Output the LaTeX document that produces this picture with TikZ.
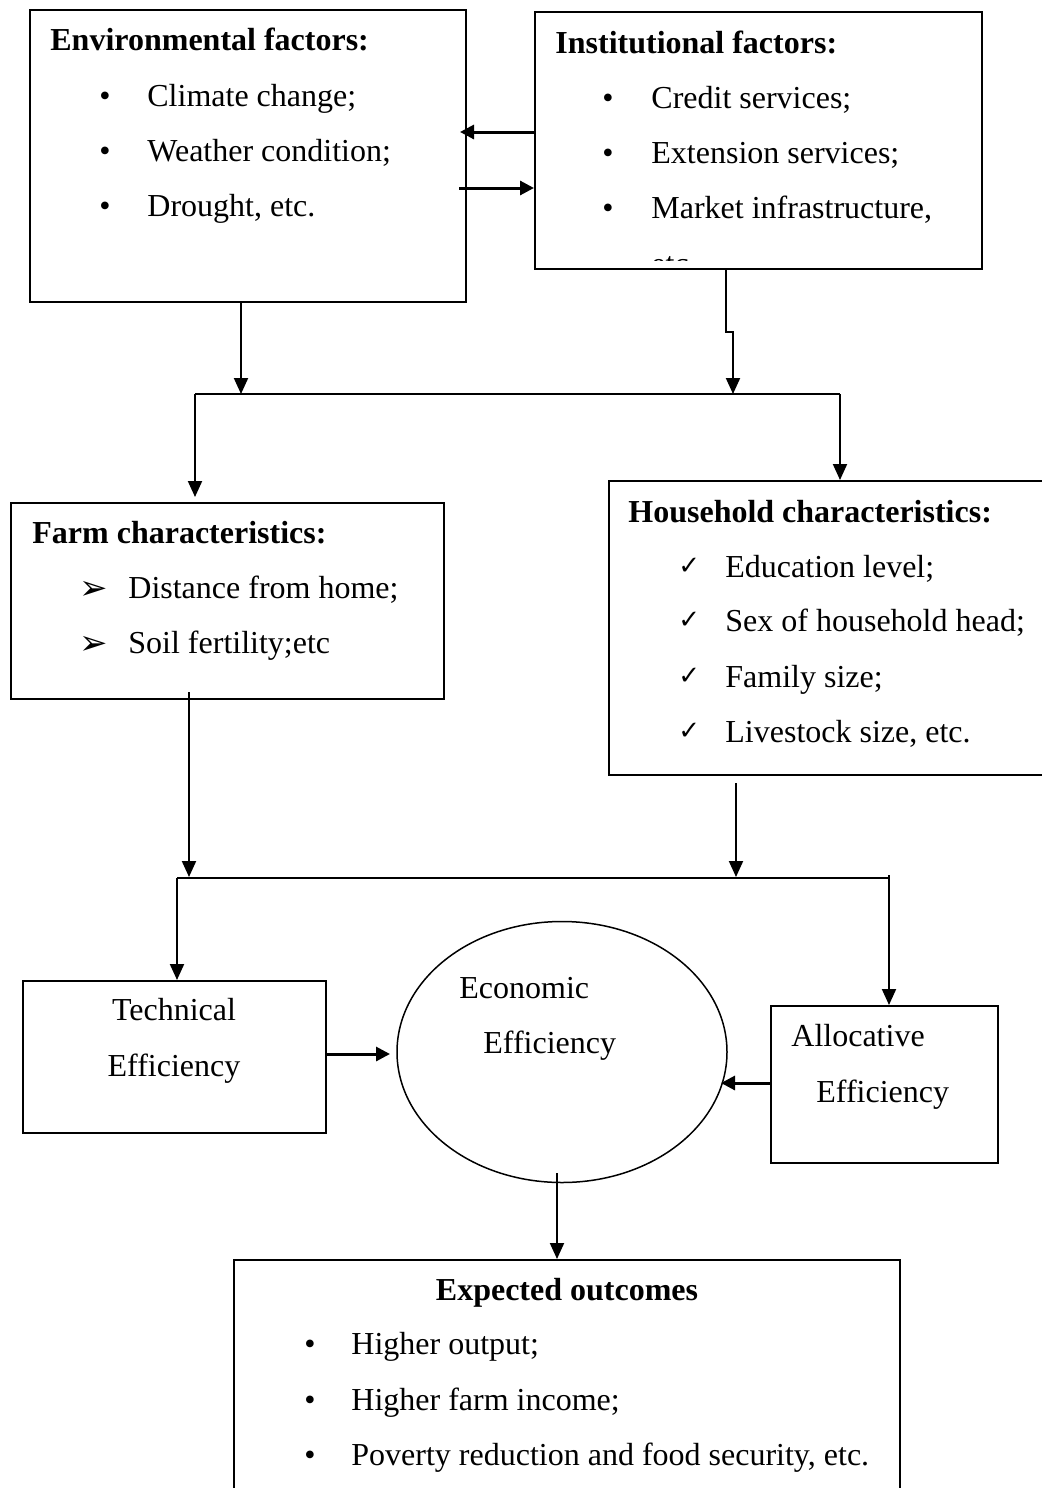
\documentclass[tikz,border=0pt]{standalone}
\usepackage{fontspec}
\setmainfont{Liberation Serif}
\newfontfamily\dejavu{DejaVu Sans}
\usetikzlibrary{arrows.meta,shapes.geometric,fit}
\begin{document}
\begin{tikzpicture}[x=0.5pt,y=-0.5pt,
 box/.style={draw, line width=1pt, inner sep=0pt},
 txt/.style={anchor=base west, inner sep=0pt, font=\fontsize{16}{19}\selectfont},
 ctxt/.style={anchor=base, inner sep=0pt, font=\fontsize{16}{19}\selectfont},
 hd/.style={anchor=base west, inner sep=0pt, font=\fontsize{16}{19}\selectfont\bfseries},
 chk/.style={anchor=west, inner sep=0pt, font=\dejavu\fontsize{13}{14}\selectfont},
 tri/.style={anchor=west, inner sep=0pt, font=\dejavu\fontsize{17}{18}\selectfont},
 conn/.style={line width=1pt},
 arr/.style={conn, -{Triangle[length=8pt,width=7pt]}},
 harr/.style={line width=1.5pt, -{Triangle[length=7pt,width=7pt]}},
]
\clip (0,0) rectangle (1042,1488);
\fill[white] (0,0) rectangle (1042,1488);

% ---- boxes
\node[box, fit={(30,10) (466,302)}] (env) {};
\node[box, fit={(535,12) (982,269)}] (inst) {};
\node[box, fit={(11,503) (444,699)}] (farm) {};
\node[box, fit={(609,481) (1048,775)}] (hh) {};
\node[box, fit={(23,981) (326,1133)}] (tech) {};
\node[box, fit={(771,1006) (998,1163)}] (alloc) {};
\node[draw, line width=0.75pt, ellipse, inner sep=0pt, minimum width=165pt, minimum height=130.5pt] (econ) at (562,1052) {};
\node[box, fit={(234,1260) (900,1500)}] (out) {};

% ---- texts: environmental
\node[hd] (envh) at (50,50) {Environmental factors:};
\node[txt] (envb1) at (99,106) {•};
\node[txt] (envt1) at (147,106) {Climate change;};
\node[txt] (envb2) at (99,161) {•};
\node[txt] (envt2) at (147,161) {Weather condition;};
\node[txt] (envb3) at (99,216) {•};
\node[txt] (envt3) at (147,216) {Drought, etc.};

% institutional
\node[hd] (insth) at (555,53) {Institutional factors:};
\node[txt] (instb1) at (602,108) {•};
\node[txt] (instt1) at (651,108) {Credit services;};
\node[txt] (instb2) at (602,163) {•};
\node[txt] (instt2) at (651,163) {Extension services;};
\node[txt] (instb3) at (602,218) {•};
\node[txt] (instt3) at (651,218) {Market infrastructure,};
\begin{scope}
\clip (536,240) rectangle (981,260);
\node[txt] (instt4) at (651,274) {etc.};
\end{scope}

% farm
\node[hd] (farmh) at (32,543) {Farm characteristics:};
\node[tri] (farmb1) at (79,590) {➢};
\node[txt] (farmt1) at (128,598) {Distance from home;};
\node[tri] (farmb2) at (79,645) {➢};
\node[txt] (farmt2) at (128,653) {Soil fertility;etc};

% household
\node[hd] (hhh) at (628,522) {Household characteristics:};
\node[chk] (hhb1) at (678,566) {✓};
\node[txt] (hht1) at (725,577) {Education level;};
\node[chk] (hhb2) at (678,620) {✓};
\node[txt] (hht2) at (725,631) {Sex of household head;};
\node[chk] (hhb3) at (678,676) {✓};
\node[txt] (hht3) at (725,687) {Family size;};
\node[chk] (hhb4) at (678,731) {✓};
\node[txt] (hht4) at (725,742) {Livestock size, etc.};

% efficiencies
\node[ctxt] (techt1) at (174,1020) {Technical};
\node[ctxt] (techt2) at (174,1076) {Efficiency};
\node[txt] (econt1) at (459,998) {Economic};
\node[txt] (econt2) at (483,1053) {Efficiency};
\node[txt] (allt1) at (791,1046) {Allocative};
\node[txt] (allt2) at (816,1102) {Efficiency};

% outcomes
\node[ctxt, font=\fontsize{16}{19}\selectfont\bfseries] (outh) at (567,1300) {Expected outcomes};
\node[txt] (outb1) at (304,1354) {•};
\node[txt] (outt1) at (351,1354) {Higher output;};
\node[txt] (outb2) at (304,1410) {•};
\node[txt] (outt2) at (351,1410) {Higher farm income;};
\node[txt] (outb3) at (304,1465) {•};
\node[txt] (outt3) at (351,1465) {Poverty reduction and food security, etc.};

% ---- connector coordinates
\coordinate (j1l) at (195,394);
\coordinate (j1r) at (840,394);
\coordinate (j2l) at (177,878);
\coordinate (j2r) at (889,875);

% top mutual arrows
\draw[harr] (inst.west |- 0,132) -- (460,132);
\draw[harr] (459,188) -- (inst.west |- 0,188);

% down from env and inst
\draw[arr] (241,0 |- env.south) -- (241,0 |- j1l);
\draw[arr] (726,0 |- inst.south) -- (726,332) -- (733,332) -- (733,0 |- j1l);
\draw[conn] (j1l) -- (j1r);
\draw[arr] (j1l) -- (195,497);
\draw[arr] (j1r) -- (j1r |- hh.north);

% down to second junction
\draw[arr] (189,692) -- (189,877);
\draw[arr] (736,783) -- (736,877);
\draw[conn] (j2l) -- (889,878);
\draw[conn] (889,878) -- (j2r);
\draw[arr] (j2l) -- (j2l |- tech.north);
\draw[arr] (j2r) -- (j2r |- alloc.north);

% into economic efficiency
\draw[harr] (tech.east |- 0,1054) -- (390,1054);
\draw[harr] (alloc.west |- 0,1083) -- (721,1083);

% to outcomes
\draw[arr] (557,1173) -- (557,0 |- out.north);
\end{tikzpicture}
\end{document}
